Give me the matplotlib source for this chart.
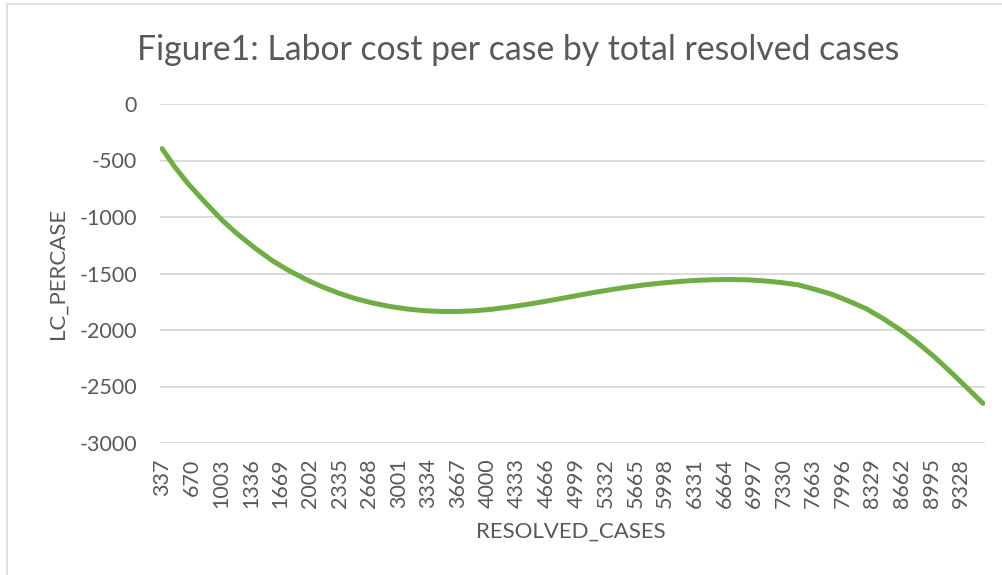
import matplotlib
matplotlib.use("Agg")
import matplotlib.pyplot as plt
from matplotlib.patches import Rectangle

# Data
resolved_cases = [337, 483, 630, 821, 1012, 1192, 1383, 1575, 1755, 1946, 2137,
                  2328, 2520, 2711, 2902, 3093, 3284, 3476, 3667, 3858, 4050,
                  4241, 4432, 4624, 4815, 5006, 5197, 5388, 5580, 5771, 5962,
                  6153, 6345, 6536, 6727, 6918, 7110, 7301, 7492, 7683, 7875,
                  8066, 8257, 8448, 8640, 8831, 9022, 9213, 9405, 9573]
lc_percase = [-395, -560, -705, -870, -1028, -1155, -1275, -1385, -1470, -1549, -1617,
              -1675, -1724, -1762, -1792, -1814, -1829, -1836, -1836, -1830, -1816,
              -1797, -1775, -1750, -1723, -1695, -1668, -1643, -1620, -1600, -1584,
              -1571, -1561, -1555, -1553, -1556, -1565, -1580, -1600, -1640, -1685,
              -1745, -1811, -1898, -1997, -2109, -2235, -2374, -2520, -2649]
x_tick_labels = [337 + 333 * i for i in range(28)]
y_ticks = [0, -500, -1000, -1500, -2000, -2500, -3000]

title = "Figure1: Labor cost per case by total resolved cases"
xlabel = "RESOLVED_CASES"
ylabel = "LC_PERCASE"

plt.rcParams['font.family'] = ['Lato', 'DejaVu Sans']
txt = '#595959'
W, H = 1002, 575
fig = plt.figure(figsize=(W / 100, H / 100), dpi=100)

# chart border
fig.patches.append(Rectangle((7 / W, -0.01), 1.2, 1 - 4 / H + 0.01, transform=fig.transFigure,
                             fill=False, edgecolor='#D9D9D9', linewidth=1.2))

ax = fig.add_axes([160 / W, 1 - 443 / H, (985 - 160) / W, (443 - 104) / H])
ax.plot(resolved_cases, lc_percase, color='#70AD47', linewidth=3.6,
        solid_capstyle='round', solid_joinstyle='round', zorder=3)
ax.set_xlim(314, 9596)
ax.set_ylim(-3000, 0)
ax.set_yticks(y_ticks)
ax.set_yticklabels([str(v) for v in y_ticks], fontsize=15.5, color=txt)
ax.set_xticks(x_tick_labels)
ax.set_xticklabels([str(v) for v in x_tick_labels], rotation=90, fontsize=15.5,
                   color=txt, va='top')
ax.tick_params(axis='both', length=0)
ax.tick_params(axis='y', pad=16.5)
ax.tick_params(axis='x', pad=11)
for s in ax.spines.values():
    s.set_visible(False)
ax.yaxis.grid(True, color='#D9D9D9', linewidth=1.3)
ax.set_axisbelow(True)

fig.text(518 / W, 1 - 50 / H, title, ha='center', va='center', fontsize=24.3, color=txt)
fig.text(571 / W, 1 - 532 / H, xlabel, ha='center', va='center', fontsize=16, color=txt)
fig.text(58 / W, 1 - 273 / H, ylabel, ha='center', va='center', rotation=90,
         fontsize=16, color=txt)

fig.savefig("out.png", dpi=100, facecolor='white')
